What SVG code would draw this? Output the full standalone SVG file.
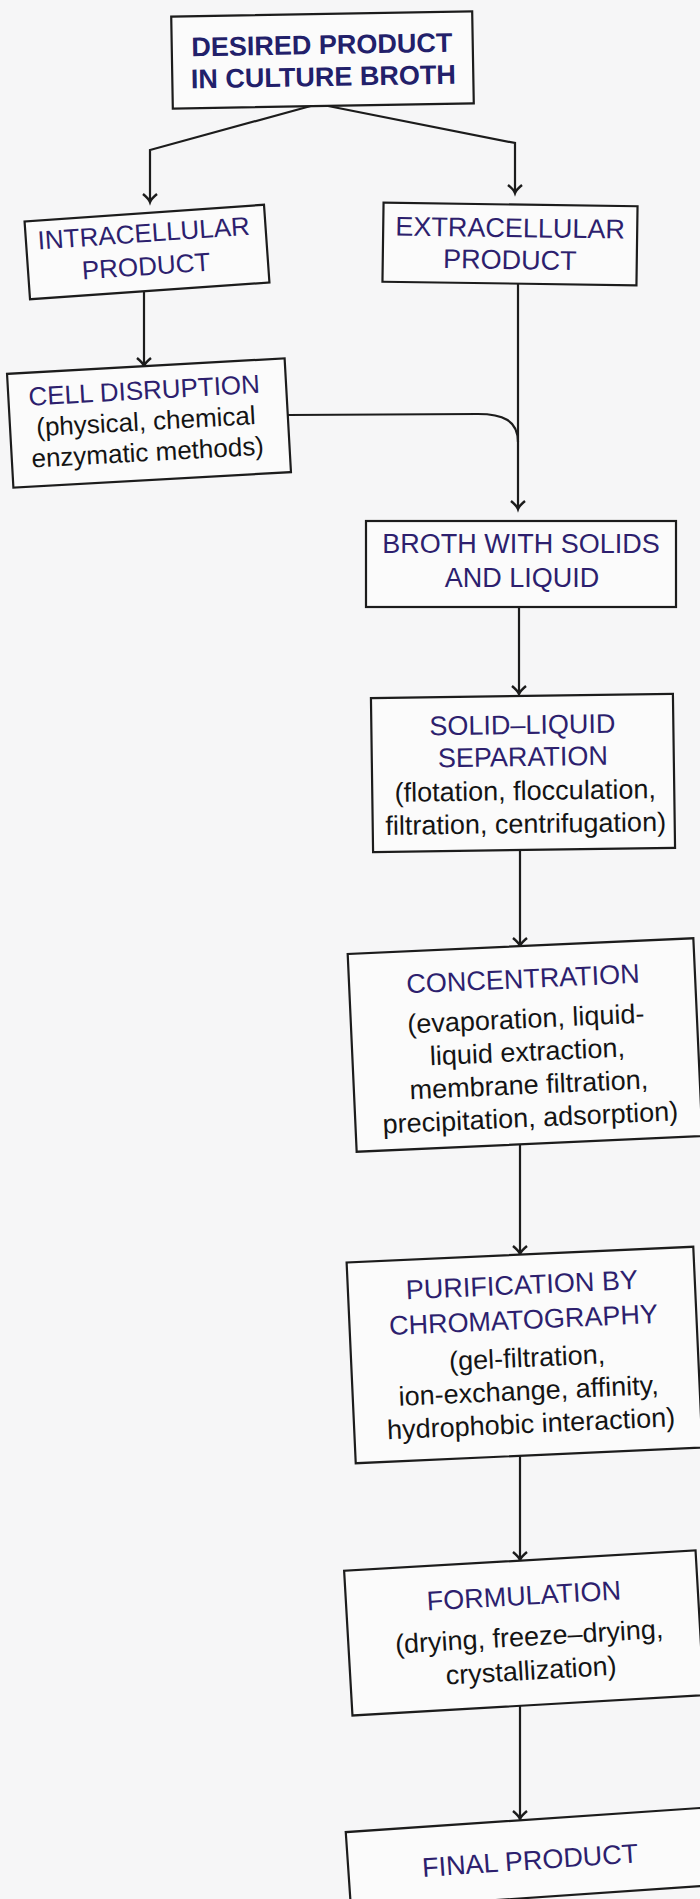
<svg xmlns="http://www.w3.org/2000/svg" width="700" height="1899" viewBox="0 0 700 1899">
<style>
.bx{fill:#fbfbfb;stroke:#1c1c1c;stroke-width:2.2}
.t{font-family:"Liberation Sans",Arial,Helvetica,sans-serif;text-anchor:middle}
.hd{fill:#2d1f6e;font-size:27px}
.hb{fill:#22206a;font-size:27px;font-weight:bold}
.ds{fill:#141414;font-size:27px}
.ds26{fill:#141414;font-size:26px}
.cn{fill:none;stroke:#1c1c1c;stroke-width:2.2}
</style>
<defs>
<marker id="ah" markerUnits="userSpaceOnUse" markerWidth="20" markerHeight="20" viewBox="-10 -10 20 20" refX="0" refY="0" orient="auto">
<path d="M-8,-7 Q-3,-1 0,0 Q-3,1 -8,7" fill="none" stroke="#1c1c1c" stroke-width="2.4"/>
</marker>
</defs>
<rect x="0" y="0" width="700" height="1899" fill="#f6f6f7"/>

<g id="connectors">
<path class="cn" d="M318,104 L150,150 L150,202" marker-end="url(#ah)"/>
<path class="cn" d="M318,104 L515,143 L515,193" marker-end="url(#ah)"/>
<path class="cn" d="M144,289 L144,366" marker-end="url(#ah)"/>
<path class="cn" d="M518,284 L518,509" marker-end="url(#ah)"/>
<path class="cn" d="M288,415 L478,414 C502,414 518,420 518,442"/>
<path class="cn" d="M519,607 L519,694" marker-end="url(#ah)"/>
<path class="cn" d="M520,850 L520,946" marker-end="url(#ah)"/>
<path class="cn" d="M520,1143 L520,1254" marker-end="url(#ah)"/>
<path class="cn" d="M520,1456 L520,1560" marker-end="url(#ah)"/>
<path class="cn" d="M520,1705 L520,1819" marker-end="url(#ah)"/>
</g>

<g id="desired" transform="rotate(-1 322.5 60)">
<rect class="bx" x="172" y="14" width="301" height="92"/>
<text class="t hb" x="322" y="54">DESIRED PRODUCT</text>
<text class="t hb" x="323" y="86">IN CULTURE BROTH</text>
</g>

<g id="intracellular" transform="rotate(-4 147 252)">
<rect class="bx" x="27" y="213" width="240" height="78"/>
<text class="t hd" x="145" y="242" style="font-size:26px">INTRACELLULAR</text>
<text class="t hd" x="145" y="275" style="font-size:26px">PRODUCT</text>
</g>

<g id="extracellular" transform="rotate(0.8 510 244)">
<rect class="bx" x="383" y="204.5" width="254" height="79"/>
<text class="t hd" x="510" y="237">EXTRACELLULAR</text>
<text class="t hd" x="510" y="269">PRODUCT</text>
</g>

<g id="cell-disruption" transform="rotate(-3.2 149 423)">
<rect class="bx" x="10" y="366" width="278" height="114"/>
<text class="t hd" x="146" y="399" style="font-size:26px">CELL DISRUPTION</text>
<text class="t ds26" x="146" y="430">(physical, chemical</text>
<text class="t ds26" x="146" y="461">enzymatic methods)</text>
</g>

<g id="broth">
<rect class="bx" x="366" y="521" width="310" height="86"/>
<text class="t hd" x="521" y="553">BROTH WITH SOLIDS</text>
<text class="t hd" x="522" y="587">AND LIQUID</text>
</g>

<g id="solid-liquid" transform="rotate(-0.8 523 773)">
<rect class="bx" x="372" y="696" width="302" height="154"/>
<text class="t hd" x="523" y="734">SOLID–LIQUID</text>
<text class="t hd" x="523" y="766">SEPARATION</text>
<text class="t ds" x="525" y="800">(flotation, flocculation,</text>
<text class="t ds" x="525" y="833">filtration, centrifugation)</text>
</g>

<g id="concentration" transform="rotate(-2.6 525 1045)">
<rect class="bx" x="352" y="946" width="346" height="198"/>
<text class="t hd" x="526" y="988">CONCENTRATION</text>
<text class="t ds" x="527" y="1028">(evaporation, liquid-</text>
<text class="t ds" x="527" y="1061">liquid extraction,</text>
<text class="t ds" x="527" y="1094">membrane filtration,</text>
<text class="t ds" x="527" y="1127">precipitation, adsorption)</text>
</g>

<g id="purification" transform="rotate(-2.6 524.5 1355)">
<rect class="bx" x="351" y="1254.5" width="347" height="201"/>
<text class="t hd" x="525" y="1294">PURIFICATION BY</text>
<text class="t hd" x="525" y="1329">CHROMATOGRAPHY</text>
<text class="t ds" x="527" y="1367">(gel-filtration,</text>
<text class="t ds" x="527" y="1400">ion-exchange, affinity,</text>
<text class="t ds" x="528" y="1433">hydrophobic interaction)</text>
</g>

<g id="formulation" transform="rotate(-3.3 523.5 1633)">
<rect class="bx" x="348" y="1560.5" width="352" height="145"/>
<text class="t hd" x="526" y="1605">FORMULATION</text>
<text class="t ds" x="529" y="1646">(drying, freeze–drying,</text>
<text class="t ds" x="529" y="1680">crystallization)</text>
</g>

<g id="final-product" transform="rotate(-3.9 525 1859)">
<rect class="bx" x="348" y="1820" width="356" height="78"/>
<text class="t hd" x="530" y="1870">FINAL PRODUCT</text>
</g>
</svg>
